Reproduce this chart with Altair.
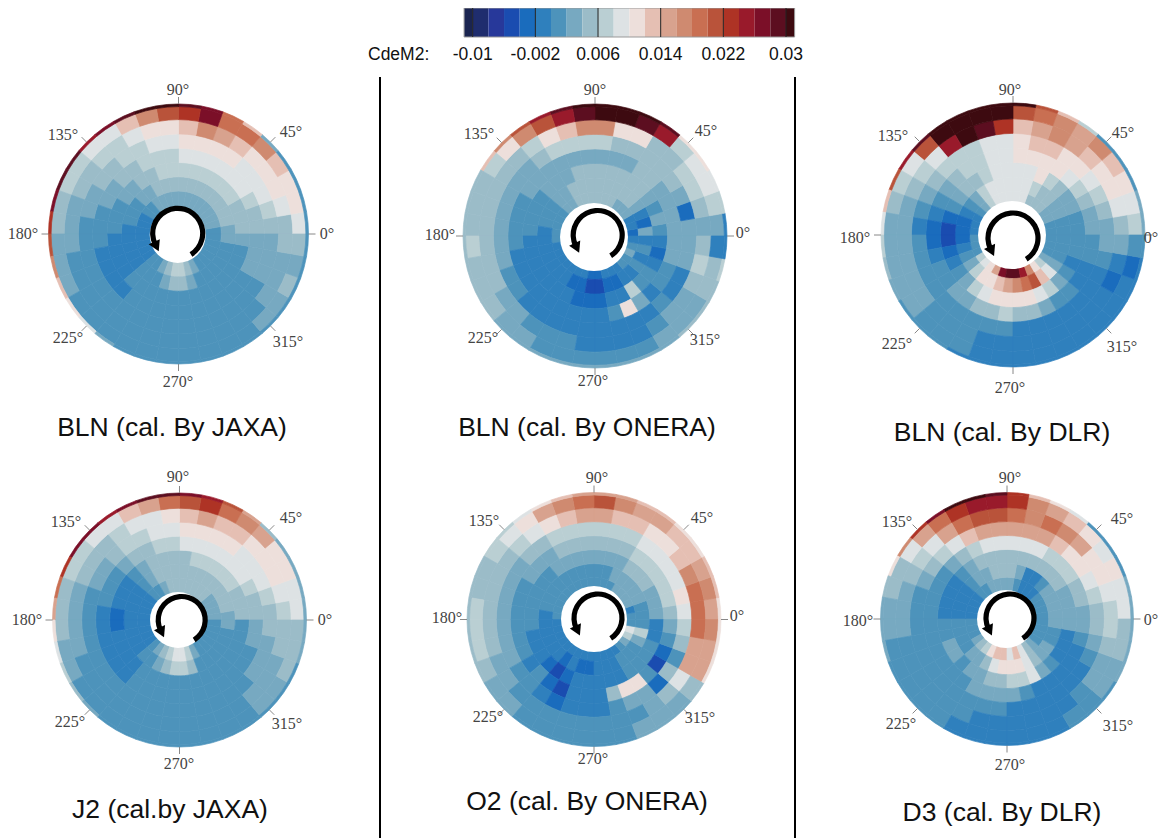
import math
import altair as alt
import pandas as pd

# colour levels of the CdeM2 bar (0 = below -0.01, each step 0.002)
bar_colors = ["#1a2450", "#1f2d6e", "#27389a", "#1a4cb0", "#1a6cbd", "#2f80bd", "#4d93bb", "#77a9c1",
              "#9bbcc8", "#bacfd3", "#dde2e4", "#eddfdb", "#e5bfb3", "#d8a28e", "#cf8a70", "#c96f52",
              "#b9533a", "#ae3325", "#991a2b", "#7b0f28", "#5c0e20", "#3d0a10"]
bar_ticks = [-0.01, -0.002, 0.006, 0.014, 0.022, 0.03]
bar_labels = ["-0.01", "-0.002", "0.006", "0.014", "0.022", "0.03"]

# field values: one row per ring (inner to outer), one digit per 10 degree sector, from 0 degrees counter-clockwise
# digits 0-9 a-l are level numbers 0..21
ring_edges = [0.2, 0.33, 0.44, 0.55, 0.66, 0.77, 0.88, 0.98, 1.0]

bln_jaxa = ["677777777 777766555 555566789 987666666",
            "788888888 888776665 555566678 876666667",
            "888999999 998877666 555566666 666666667",
            "889aaaaaa 999887766 655556666 666666777",
            "89aaabbbb aa9988776 666666666 666666777",
            "8abbbcdec bba998877 766666666 666667778",
            "abbceffjh gecaa9988 777666666 666677878",
            "66667cfjk llkjikkjh gecba7666 666666666"]
bln_onera = ["455777888 888776666 655555554 455566765",
             "745788888 888776665 555555443 344556565",
             "676788888 887776666 555555544 455966545",
             "777788777 777777666 655555555 56b756677",
             "747888889 999877777 776655555 555565577",
             "789988bbe ecb988888 888776665 555677898",
             "79aa9ikll kigeb9888 988877666 666777885",
             "59abbklll lkigec888 888877777 777788895"]
bln_dlr = ["6677888aa aaa976555 6669abdjk kieb97666",
           "6677889aa aaa976544 45679bbcd efgca7666",
           "667789baa aa9887643 345679abb bba976566",
           "7789abbbb aa9987654 456677889 887665566",
           "789abbccb aa9998765 666666666 555555567",
           "8abbcdedc hklia9877 777766655 555555457",
           "9abcedefg llllga987 777766655 555555546",
           "776669cgl llllkigca 987666555 555555556"]
j2_jaxa = ["777788888 887665555 55556789a a97666666",
           "788888888 888765555 555566789 986666667",
           "888999998 888765554 455556666 666666666",
           "889aaaaaa 998876665 555556666 666666677",
           "89aaabbbb aa9987766 666666666 666667778",
           "9abbbccdc baa988877 776666666 666677788",
           "aabbdefhg fdcaa9988 877666666 666677888",
           "77778dgij kkjijjhfd ba9876666 666666677"]
o2_onera = ["657777666 666666666 555555555 5555679a6",
            "667777766 666666665 555554544 555666796",
            "777888777 777766666 655543455 555666655",
            "899999888 888777666 666564355 58bb63467",
            "abaaaa999 999887777 777665455 567748689",
            "ffecbbccd dcba98888 887766666 66678addf",
            "dedccddeg fedba9889 998776666 667778dde",
            "bccbbccdd dcba99888 888776666 667778bbb"]
d3_dlr = ["666655567 777665555 666789bcc aca876666",
          "777765578 887765555 6666778ab bba877667",
          "777888888 888765555 667767788 99a765557",
          "788999aaa aa9876666 666666777 765555567",
          "89abbcddd ddca98766 666666666 555555678",
          "9abbdefef ggfda9877 766666655 555567789",
          "aababcdeh iihfda887 766666555 555667788",
          "77666abch klljheb87 776666555 555666777"]

panel_names = ["BLN (cal. By JAXA)", "BLN (cal. By ONERA)", "BLN (cal. By DLR)",
               "J2 (cal.by JAXA)", "O2 (cal. By ONERA)", "D3 (cal. By DLR)"]
panel_fields = [bln_jaxa, bln_onera, bln_dlr, j2_jaxa, o2_onera, d3_dlr]
panel_cx = [178.5, 595, 1013, 179.5, 594, 1007]
panel_cy = [234, 236, 235, 620, 619.5, 619]
panel_r = [130, 132, 132, 127, 127, 126.5]
hole_cx = [177.7, 594, 1012, 178, 594, 1006]
hole_cy = [235, 237, 235, 620, 619, 619]
hole_r = [28, 34, 34, 28, 33, 29]
arrow_cx = [177.7, 597.7, 1013, 181.7, 598, 1010]
arrow_cy = [233.3, 235, 238, 620, 618, 618]
arrow_r = [25, 24.5, 25, 23.5, 24, 24]
name_x = [172, 587, 1002, 170, 587, 1002]
name_y = [428, 428, 433, 810, 802, 813]

angle_text = ["90°", "45°", "0°", "135°", "180°", "225°", "270°", "315°"]
angle_deg = [90, 45, 0, 135, 180, 225, 270, 315]
label_x = [[178, 291, 327, 63, 23, 68, 178, 288],
           [595, 706, 743, 479, 440, 483, 593, 705],
           [1010, 1123, 1151, 893, 855, 897, 1010, 1122],
           [178, 291, 325, 66, 27, 70, 179, 287],
           [597, 702, 737, 484, 447, 488, 593, 700],
           [1010, 1122, 1151, 897, 858, 901, 1010, 1118]]
label_y = [[90, 132, 234, 135, 234, 338, 382, 342],
           [90, 131, 233, 134, 235, 338, 381, 340],
           [90, 133, 238, 136, 238, 344, 388, 347],
           [477, 518, 620, 522, 620, 722, 764, 724],
           [478, 518, 616, 521, 618, 717, 759, 718],
           [478, 519, 620, 522, 621, 724, 765, 726]]

divider_x = [380, 795]
divider_top = [77, 77]
divider_bottom = [838, 838]

# ------------- tables
cells, discs, arrows, heads, ticks, labels = [], [], [], [], [], []
for p, rows in enumerate(panel_fields):
    for k, row in enumerate(rows):
        digits = row.replace(" ", "")
        assert len(digits) == 36, (p, k, len(digits))
        for i, ch in enumerate(digits):
            start = (90 - 10 * (i + 1)) % 360
            cells.append(dict(x=panel_cx[p], y=panel_cy[p],
                              t0=math.radians(start), t1=math.radians(start + 10),
                              r0=ring_edges[k] * panel_r[p], r1=ring_edges[k + 1] * panel_r[p],
                              level=int(ch, 22)))
    discs.append(dict(x=hole_cx[p], y=hole_cy[p], t0=0, t1=2 * math.pi, r0=0, r1=hole_r[p]))
    arrows.append(dict(x=arrow_cx[p], y=arrow_cy[p], t0=math.radians(-115),
                       t1=math.radians(148), r0=arrow_r[p] - 2.6, r1=arrow_r[p] + 2.6))
    a = math.radians(212)
    heads.append(dict(x=arrow_cx[p] + arrow_r[p] * math.cos(a), y=arrow_cy[p] - arrow_r[p] * math.sin(a)))
    for deg, txt, lx, ly in zip(angle_deg, angle_text, label_x[p], label_y[p]):
        c, s = math.cos(math.radians(deg)), math.sin(math.radians(deg))
        ticks.append(dict(x=panel_cx[p] + panel_r[p] * c, y=panel_cy[p] - panel_r[p] * s,
                          x2=panel_cx[p] + (panel_r[p] + 7) * c, y2=panel_cy[p] - (panel_r[p] + 7) * s))
        labels.append(dict(x=lx, y=ly, text=txt))
names = [dict(x=a, y=b, text=t) for a, b, t in zip(name_x, name_y, panel_names)]
dividers = [dict(x=a, y=b, y2=c) for a, b, c in zip(divider_x, divider_top, divider_bottom)]

x_scale = alt.Scale(domain=[8, 1158], nice=False, zero=False)
y_scale = alt.Scale(domain=[8, 838], range=[0, 830], nice=False, zero=False)
X = alt.X("x:Q", scale=x_scale, axis=None)
Y = alt.Y("y:Q", scale=y_scale, axis=None)
level_scale = alt.Scale(domain=list(range(22)), range=bar_colors)


def arc_enc():
    return dict(x=X, y=Y,
                theta=alt.Theta("t0:Q", scale=None, stack=None), theta2=alt.Theta2("t1:Q"),
                radius=alt.Radius("r1:Q", scale=None), radius2=alt.Radius2("r0:Q"))


field_layer = alt.Chart(pd.DataFrame(cells)).mark_arc(strokeWidth=0.7).encode(
    color=alt.Color("level:O", scale=level_scale, legend=None),
    stroke=alt.Stroke("level:O", scale=level_scale, legend=None),
    **arc_enc())
disc_layer = alt.Chart(pd.DataFrame(discs)).mark_arc(color="white").encode(**arc_enc())
arrow_layer = alt.Chart(pd.DataFrame(arrows)).mark_arc(color="black").encode(**arc_enc())
head_layer = alt.Chart(pd.DataFrame(heads)).mark_point(
    shape="triangle-up", angle=155, filled=True, color="black", opacity=1, size=150).encode(x=X, y=Y)
tick_layer = alt.Chart(pd.DataFrame(ticks)).mark_rule(color="#888888", strokeWidth=1).encode(
    x=X, y=Y, x2="x2:Q", y2="y2:Q")
label_layer = alt.Chart(pd.DataFrame(labels)).mark_text(
    font="Liberation Serif", fontSize=16, color="#444444").encode(x=X, y=Y, text="text:N")
name_layer = alt.Chart(pd.DataFrame(names)).mark_text(
    font="Liberation Sans", fontSize=26.5, color="#111111").encode(x=X, y=Y, text="text:N")
divider_layer = alt.Chart(pd.DataFrame(dividers)).mark_rule(color="black", strokeWidth=2).encode(
    x=X, y=Y, y2="y2:Q")

# colour bar: own x scale, in CdeM2 units
bx = alt.Scale(domain=[-0.01, 0.03], range=[464.7, 778], nice=False, zero=False)
edges = [-0.0111] + [-0.01 + 0.002 * i for i in range(21)] + [0.0311]
bar_df = pd.DataFrame([dict(v0=edges[i], v1=edges[i + 1], level=i, y=8, y2=37) for i in range(22)])
bar_layer = alt.Chart(bar_df).mark_rect().encode(
    x=alt.X("v0:Q", scale=bx, axis=None), x2="v1:Q", y=Y, y2="y2:Q",
    color=alt.Color("level:O", scale=level_scale, legend=None))
frame_df = pd.DataFrame([dict(v0=edges[0], v1=edges[-1], y=8, y2=37)])
frame_layer = alt.Chart(frame_df).mark_rect(fill=None, stroke="#999999", strokeWidth=1).encode(
    x=alt.X("v0:Q", scale=bx, axis=None), x2="v1:Q", y=Y, y2="y2:Q")
tick_df = pd.DataFrame(dict(v=bar_ticks, text=bar_labels, y=[8] * 6, y2=[37] * 6, ly=[54.5] * 6))
bar_tick_layer = alt.Chart(tick_df).mark_rule(color="#222222", strokeWidth=1).encode(
    x=alt.X("v:Q", scale=bx, axis=None), y=Y, y2="y2:Q")
bar_text_layer = alt.Chart(tick_df).mark_text(
    font="Liberation Sans", fontSize=17.5, color="#111111").encode(
    x=alt.X("v:Q", scale=bx, axis=None), y=alt.Y("ly:Q", scale=y_scale, axis=None), text="text:N")
bar_name_layer = alt.Chart(pd.DataFrame([dict(x=368, y=54.5, text="CdeM2:")])).mark_text(
    font="Liberation Sans", fontSize=17.5, color="#111111", align="left").encode(x=X, y=Y, text="text:N")

chart = alt.layer(field_layer, disc_layer, arrow_layer, head_layer, tick_layer, label_layer, name_layer,
                  divider_layer, bar_layer, frame_layer, bar_tick_layer, bar_text_layer, bar_name_layer
                  ).resolve_scale(x="independent").properties(
    width=1150, height=830, padding=0, background="white",
    autosize=alt.AutoSizeParams(type="none")
).configure_view(stroke=None)

chart.save("out.html", embed_options={"renderer": "svg", "actions": False})
